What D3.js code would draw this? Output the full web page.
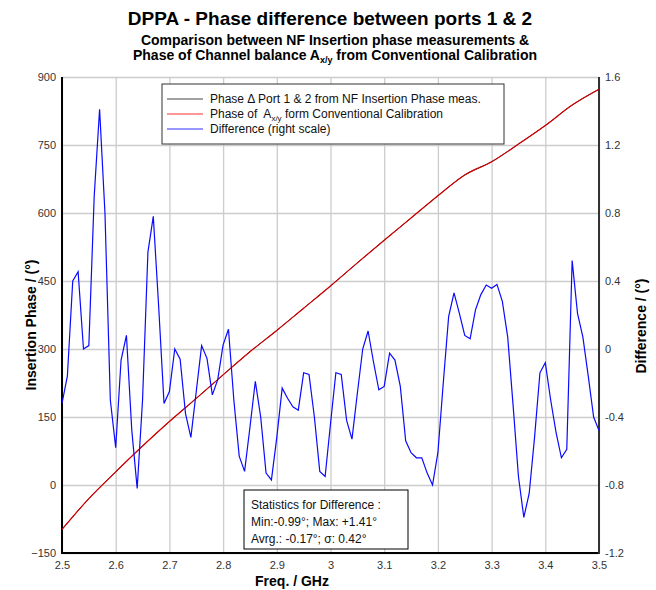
<!DOCTYPE html>
<html>
<head>
<meta charset="utf-8">
<script src="https://cdnjs.cloudflare.com/ajax/libs/d3/7.8.5/d3.min.js"></script>
<style>
	body { margin: 0; background: #fff; }
	text { font-family: "Liberation Sans", Arial, sans-serif; }
</style>
</head>
<body>
<svg id="chart" width="656" height="590"></svg>
<script>
// Frequencies (GHz) of the phase curves
var phaseFreq = [2.50, 2.55, 2.60, 2.65, 2.70, 2.75, 2.80, 2.85, 2.90, 2.95, 3.00,
	3.05, 3.10, 3.15, 3.20, 3.25, 3.30, 3.35, 3.40, 3.45, 3.50];

// Phase delta port 1 & 2 from NF insertion phase meas. (deg)
var nfPhase = [-98, -30, 29, 86, 140, 191, 243, 294, 341, 390, 439,
	490, 540, 589, 638, 684, 713, 752, 793, 838, 873];

// Phase of Ax/y from conventional calibration (deg)
var calPhase = [-98, -30, 29, 86, 140, 191, 243, 294, 341, 390, 439,
	490, 540, 589, 638, 684, 713, 752, 793, 838, 873];

// Difference (deg, right scale), 2.50 .. 3.50 GHz step 0.01
var diffStart = 2.5, diffStep = 0.01;
var diffValues = [
	-0.32, -0.16, 0.40, 0.455, 0.00, 0.02, 0.90, 1.41, 0.80, -0.30,
	-0.58, -0.065, 0.08, -0.48, -0.82, -0.30, 0.57, 0.78, 0.25, -0.32,
	-0.25, 0.00, -0.06, -0.38, -0.52, -0.25, 0.02, -0.055, -0.27, -0.18,
	0.024, 0.116, -0.30, -0.63, -0.72, -0.46, -0.19, -0.40, -0.73, -0.77,
	-0.52, -0.23, -0.29, -0.34, -0.36, -0.14, -0.15, -0.40, -0.72, -0.75,
	-0.44, -0.14, -0.15, -0.42, -0.53, -0.26, 0.00, 0.106, -0.075, -0.24,
	-0.22, -0.025, -0.065, -0.22, -0.54, -0.61, -0.64, -0.64, -0.73, -0.80,
	-0.61, -0.20, 0.19, 0.33, 0.21, 0.08, 0.06, 0.23, 0.32, 0.376,
	0.357, 0.38, 0.28, 0.07, -0.33, -0.75, -0.99, -0.85, -0.52, -0.14,
	-0.08, -0.30, -0.49, -0.64, -0.59, 0.52, 0.21, 0.07, -0.16, -0.40,
	-0.48
];

// Tick values
var xTicks = [2.5, 2.6, 2.7, 2.8, 2.9, 3.0, 3.1, 3.2, 3.3, 3.4, 3.5];
var leftTicks = [-150, 0, 150, 300, 450, 600, 750, 900];
var rightTicks = [-1.2, -0.8, -0.4, 0, 0.4, 0.8, 1.2, 1.6];

var statsLines = [
	'Statistics for Difference :',
	'Min:-0.99\u00b0; Max: +1.41\u00b0',
	'Avrg.: -0.17\u00b0; \u03c3: 0.42\u00b0'
];

var svg = d3.select('#chart');

// Plot area
var pLeft = 62, pRight = 599, pTop = 77, pBottom = 553;

var x = d3.scaleLinear().domain([2.5, 3.5]).range([pLeft, pRight]);
var yL = d3.scaleLinear().domain([-150, 900]).range([pBottom, pTop]);
var yR = d3.scaleLinear().domain([-1.2, 1.6]).range([pBottom, pTop]);

var fmt = function(d) { return String(+d.toFixed(1)); };

// Axes with gridlines
var gx = svg.append('g')
	.attr('transform', 'translate(0,' + pBottom + ')')
	.call(d3.axisBottom(x).tickValues(xTicks).tickFormat(fmt)
		.tickSizeInner(-(pBottom - pTop)).tickSizeOuter(0).tickPadding(8));

var gl = svg.append('g')
	.attr('transform', 'translate(' + pLeft + ',0)')
	.call(d3.axisLeft(yL).tickValues(leftTicks).tickFormat(d3.format('d'))
		.tickSizeInner(-(pRight - pLeft)).tickSizeOuter(0).tickPadding(6));

var gr = svg.append('g')
	.attr('transform', 'translate(' + pRight + ',0)')
	.call(d3.axisRight(yR).tickValues(rightTicks).tickFormat(fmt)
		.tickSizeInner(0).tickSizeOuter(0).tickPadding(6));

[gx, gl, gr].forEach(function(g) {
	g.select('.domain').remove();
	g.selectAll('line').attr('stroke', '#cccccc').attr('stroke-width', 1.3);
	g.selectAll('text').attr('font-size', 11).attr('fill', '#333')
		.style('font-family', '"Liberation Sans", Arial, sans-serif');
});

// Frame
svg.append('line').attr('x1', pLeft).attr('x2', pLeft).attr('y1', pTop).attr('y2', pBottom + 1)
	.attr('stroke', '#000').attr('stroke-width', 2);
svg.append('line').attr('x1', pLeft).attr('x2', pRight).attr('y1', pBottom).attr('y2', pBottom)
	.attr('stroke', '#000').attr('stroke-width', 2);
svg.append('line').attr('x1', pRight).attr('x2', pRight).attr('y1', pTop).attr('y2', pBottom + 1)
	.attr('stroke', '#333').attr('stroke-width', 2);

// Lines
var phaseLine = d3.line()
	.x(function(d, i) { return x(phaseFreq[i]); })
	.y(function(d) { return yL(d); })
	.curve(d3.curveMonotoneX);

svg.append('path').datum(nfPhase)
	.attr('d', phaseLine).attr('fill', 'none')
	.attr('stroke', '#222').attr('stroke-width', 1);

svg.append('path').datum(calPhase)
	.attr('d', phaseLine).attr('fill', 'none')
	.attr('stroke', '#d40000').attr('stroke-width', 1.2);

var diffLine = d3.line()
	.x(function(d, i) { return x(diffStart + i * diffStep); })
	.y(function(d) { return yR(d); });

svg.append('path').datum(diffValues)
	.attr('d', diffLine).attr('fill', 'none')
	.attr('stroke', '#0a0aff').attr('stroke-width', 1.2);

// Titles
svg.append('text').attr('x', 330).attr('y', 25).attr('text-anchor', 'middle')
	.attr('font-size', 19).attr('font-weight', 'bold')
	.text('DPPA - Phase difference between ports 1 & 2');
svg.append('text').attr('x', 335).attr('y', 45).attr('text-anchor', 'middle')
	.attr('font-size', 14).attr('font-weight', 'bold')
	.text('Comparison between NF Insertion phase measurements &');
var t3 = svg.append('text').attr('x', 335).attr('y', 60).attr('text-anchor', 'middle')
	.attr('font-size', 14).attr('font-weight', 'bold');
t3.append('tspan').text('Phase of Channel balance A');
t3.append('tspan').attr('font-size', 9).attr('dy', 3).text('x/y');
t3.append('tspan').attr('dy', -3).text(' from Conventional Calibration');

// Axis titles
svg.append('text').attr('transform', 'translate(36,' + 325 + ') rotate(-90)')
	.attr('text-anchor', 'middle').attr('font-size', 14).attr('font-weight', 'bold')
	.text('Insertion Phase / (\u00b0)');
svg.append('text').attr('transform', 'translate(646,' + 326 + ') rotate(-90)')
	.attr('text-anchor', 'middle').attr('font-size', 14).attr('font-weight', 'bold')
	.text('Difference / (\u00b0)');
svg.append('text').attr('x', 292).attr('y', 586).attr('text-anchor', 'middle')
	.attr('font-size', 14).attr('font-weight', 'bold')
	.text('Freq. / GHz');

// Legend
var legend = svg.append('g');
legend.append('rect').attr('x', 162).attr('y', 84).attr('width', 342).attr('height', 60)
	.attr('fill', '#fff').attr('stroke', '#333').attr('stroke-width', 1);
var legendItems = [
	{ color: '#444', y: 99 },
	{ color: '#ff3030', y: 114 },
	{ color: '#3030ff', y: 129 }
];
legendItems.forEach(function(d) {
	legend.append('line').attr('x1', 167).attr('x2', 203).attr('y1', d.y).attr('y2', d.y)
		.attr('stroke', d.color).attr('stroke-width', 1.2);
});
legend.append('text').attr('x', 210).attr('y', 103).attr('font-size', 12).attr('fill', '#111')
	.text('Phase \u0394 Port 1 & 2 from NF Insertion Phase meas.');
var l2 = legend.append('text').attr('x', 210).attr('y', 118).attr('font-size', 12).attr('fill', '#111')
	.attr('xml:space', 'preserve');
l2.append('tspan').text('Phase of  A');
l2.append('tspan').attr('font-size', 8).attr('dy', 3).text('x/y');
l2.append('tspan').attr('dy', -3).text(' form Conventional Calibration');
legend.append('text').attr('x', 210).attr('y', 133).attr('font-size', 12).attr('fill', '#111')
	.text('Difference (right scale)');

// Statistics box
var stats = svg.append('g');
stats.append('rect').attr('x', 244).attr('y', 490).attr('width', 164).attr('height', 59)
	.attr('fill', '#fff').attr('stroke', '#000').attr('stroke-width', 1);
stats.selectAll('text').data(statsLines).enter().append('text')
	.attr('x', 251).attr('y', function(d, i) { return 509 + i * 17; })
	.attr('font-size', 12).attr('fill', '#111')
	.text(function(d) { return d; });
</script>
</body>
</html>
